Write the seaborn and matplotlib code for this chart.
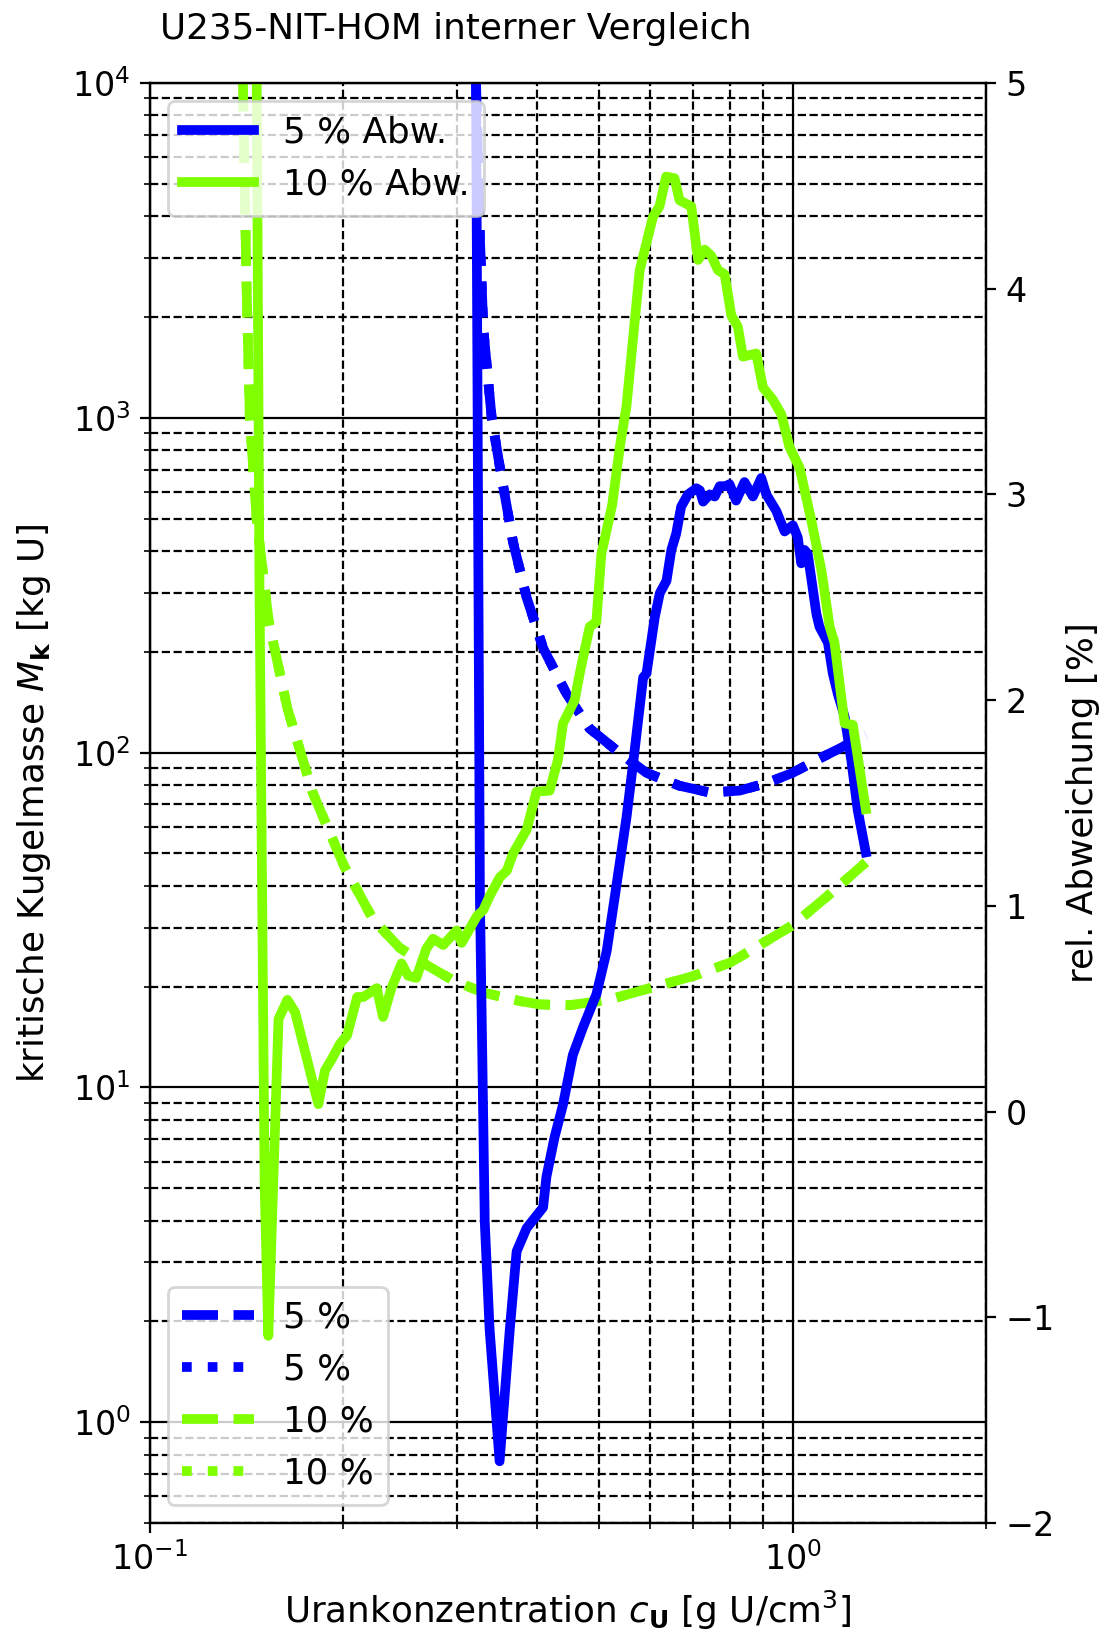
import matplotlib
matplotlib.use("Agg")
import matplotlib.pyplot as plt
import seaborn as sns

# ---------------- data ----------------
# left axis: critical sphere mass M_k [kg U]
c_mk5 = [0.3200, 0.3262, 0.3302, 0.3402, 0.350, 0.359, 0.3673, 0.3857, 0.4092,
         0.4447, 0.4834, 0.5384, 0.5925, 0.667, 0.743, 0.8272, 0.91, 1.0,
         1.101, 1.197, 1.30]
mk5 = [15000, 3420, 1840, 1000, 720, 545, 425, 290, 205,
       150, 118, 99.7, 87, 79.6, 76, 77, 81, 87,
       96, 104, 113]

c_mk10 = [0.1390, 0.1413, 0.1430, 0.1465, 0.1531, 0.1637, 0.1791, 0.2003, 0.2225,
          0.2448, 0.2694, 0.2961, 0.330, 0.3771, 0.4037, 0.450, 0.519, 0.600, 0.700,
          0.800, 0.900, 1.000, 1.128, 1.300]
mk10 = [15000, 2530, 1000, 500, 245, 135, 76, 46, 31.7,
        26.1, 23.2, 20.9, 19.2, 18.1, 17.7, 17.6, 18.3, 19.8, 21.5,
        23.6, 27.0, 30.5, 37.0, 47.0]

# right axis: relative deviation [%]
c_abw5 = [0.3205, 0.3262, 0.3319, 0.3377, 0.350, 0.363, 0.372, 0.3855, 0.409, 0.414,
          0.4262, 0.439, 0.455, 0.472, 0.4951, 0.5137, 0.528, 0.5515, 0.5646, 0.5854,
          0.5925, 0.6105, 0.6214, 0.6365, 0.6476, 0.6591, 0.6707, 0.6874, 0.7086, 0.7172,
          0.7257, 0.7432, 0.7566, 0.7702, 0.7884, 0.7978, 0.8168, 0.8418, 0.8676, 0.8940,
          0.9101, 0.9433, 0.9718, 1.001, 1.019, 1.0316, 1.044, 1.056, 1.089, 1.101,
          1.135, 1.155, 1.176, 1.205, 1.234, 1.263, 1.300]
abw5 = [6.0, 1.03, -0.54, -1.06, -1.70, -1.06, -0.68, -0.567, -0.466, -0.316,
        -0.124, 0.03, 0.275, 0.41, 0.57, 0.78, 1.03, 1.43, 1.69, 2.11,
        2.13, 2.405, 2.52, 2.58, 2.73, 2.81, 2.94, 3.0, 3.03, 3.02,
        2.965, 3.0, 2.99, 3.04, 3.04, 3.05, 2.97, 3.06, 2.99, 3.08,
        3.0, 2.92, 2.82, 2.85, 2.79, 2.665, 2.73, 2.71, 2.42, 2.357,
        2.28, 2.13, 2.03, 1.92, 1.71, 1.465, 1.26]

c_abw10 = [0.1460, 0.1480, 0.1508, 0.1528, 0.1585, 0.1636, 0.1682, 0.1828, 0.1872, 0.1914,
           0.1976, 0.2026, 0.2101, 0.2148, 0.2254, 0.2305, 0.2375, 0.2463, 0.2522, 0.2597,
           0.2690, 0.2757, 0.2860, 0.3000, 0.3055, 0.3226, 0.3302, 0.3380, 0.3505, 0.3591,
           0.3673, 0.3857, 0.3994, 0.4187, 0.4314, 0.4393, 0.4581, 0.4664, 0.4834, 0.4950,
           0.5040, 0.5240, 0.5384, 0.5515, 0.5782, 0.6064, 0.6207, 0.6356, 0.6550, 0.6670,
           0.6956, 0.7128, 0.7299, 0.7474, 0.7656, 0.7840, 0.8029, 0.8220, 0.8370, 0.8780,
           0.8993, 0.9320, 0.9603, 0.9890, 1.0254, 1.0693, 1.1090, 1.1420, 1.1620, 1.2050,
           1.2410, 1.3000]
abw10 = [6.0, 2.6, -0.36, -1.09, 0.45, 0.543, 0.483, 0.036, 0.20, 0.25,
         0.33, 0.37, 0.557, 0.557, 0.60, 0.46, 0.60, 0.72, 0.66, 0.65,
         0.79, 0.84, 0.81, 0.88, 0.82, 0.95, 0.98, 1.05, 1.14, 1.17,
         1.255, 1.37, 1.555, 1.56, 1.71, 1.887, 2.0, 2.13, 2.357, 2.38,
         2.71, 2.95, 3.23, 3.43, 4.09, 4.35, 4.40, 4.545, 4.537, 4.43,
         4.40, 4.14, 4.19, 4.16, 4.09, 4.07, 3.87, 3.815, 3.67, 3.685,
         3.52, 3.46, 3.39, 3.23, 3.13, 2.875, 2.63, 2.357, 2.28, 1.887,
         1.88, 1.47]

legend_left = ["5 %", "5 %", "10 %", "10 %"]
legend_right = ["5 % Abw.", "10 % Abw."]
title = "U235-NIT-HOM interner Vergleich"
xlabel = r"Urankonzentration $c_\mathbf{U}$ [g U/cm$^3$]"
ylabel_left = r"kritische Kugelmasse $M_\mathbf{k}$ [kg U]"
ylabel_right = "rel. Abweichung [%]"

BLUE = "#0000ff"
GREEN = "#7fff00"
FS = 12.9
TFS = 12
LW = 3.5

# ---------------- figure ----------------
fig = plt.figure(figsize=(5.555, 8.18), dpi=200)
ax = fig.add_axes([150 / 1111, 1 - 1523 / 1636, (986 - 150) / 1111, (1523 - 83) / 1636])
ax.set_xscale("log")
ax.set_yscale("log")
ax2 = ax.twinx()

sns.lineplot(x=c_mk5, y=mk5, ax=ax, color=BLUE, linestyle="--", lw=LW,
             errorbar=None, label=legend_left[0])
sns.lineplot(x=c_mk5, y=mk5, ax=ax, color=BLUE, linestyle=":", lw=LW,
             errorbar=None, label=legend_left[1])
sns.lineplot(x=c_mk10, y=mk10, ax=ax, color=GREEN, linestyle="--", lw=LW,
             errorbar=None, label=legend_left[2])
sns.lineplot(x=c_mk10, y=mk10, ax=ax, color=GREEN, linestyle=":", lw=LW,
             errorbar=None, label=legend_left[3])

sns.lineplot(x=c_abw5, y=abw5, ax=ax2, color=BLUE, linestyle="-", lw=LW,
             errorbar=None, label=legend_right[0])
sns.lineplot(x=c_abw10, y=abw10, ax=ax2, color=GREEN, linestyle="-", lw=LW,
             errorbar=None, label=legend_right[1])

ax.set_xlim(0.1, 2.0)
ax.set_ylim(0.5, 1e4)
ax2.set_ylim(-2, 5)
ax2.set_yticks(range(-2, 6))

ax.grid(True, which="major", color="k", linestyle="-", linewidth=0.8)
ax.grid(True, which="minor", color="k", linestyle="--", linewidth=0.8)

ax.tick_params(labelsize=TFS)
ax2.tick_params(labelsize=TFS)

ax.set_xlabel(xlabel, fontsize=FS)
ax.set_ylabel(ylabel_left, fontsize=FS, labelpad=7)
ax2.set_ylabel(ylabel_right, fontsize=FS)

ax.legend(loc="lower left", fontsize=FS)
ax2.legend(loc="upper left", fontsize=FS)

fig.text(160 / 1111, 1 - 39 / 1636, title, fontsize=FS, ha="left", va="baseline")

fig.savefig("out.png", dpi=200)
